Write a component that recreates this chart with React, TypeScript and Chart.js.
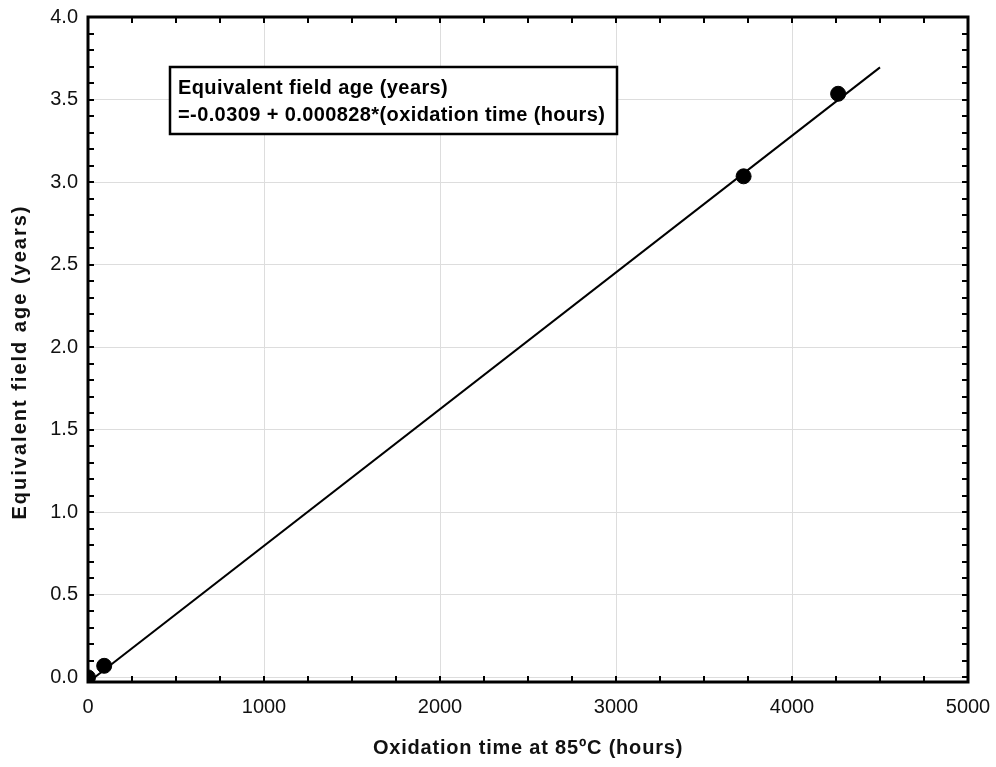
import React, { useEffect, useRef } from "react";
import { Chart, registerables } from "chart.js";

Chart.register(...registerables);

const OBS_HOURS = [0, 92, 3725, 4262];
const OBS_YEARS = [0, 0.07, 3.035, 3.535];
const FIT_HOURS = [0, 4500];
const FIT_YEARS = [-0.0309, 3.695];
const X_TICKS = [0, 1000, 2000, 3000, 4000, 5000];
const Y_TICKS = [0, 0.5, 1.0, 1.5, 2.0, 2.5, 3.0, 3.5, 4.0];
const X_MINOR_STEP = 250;
const Y_MINOR_STEP = 0.1;
const BOX_LINES = [
  "Equivalent field age (years)",
  "=-0.0309 + 0.000828*(oxidation time (hours)",
];
const X_TITLE = "Oxidation time at 85ºC (hours)";
const Y_TITLE = "Equivalent field age (years)";

const FONT = "'Liberation Sans', Arial, Helvetica, sans-serif";

const framePlugin = {
  id: "frameTicks",
  afterDraw(chart: any) {
    const { ctx, chartArea: a, scales } = chart;
    const xs = scales.x;
    const ys = scales.y;
    ctx.save();
    ctx.strokeStyle = "#000";
    // inward ticks
    ctx.lineWidth = 2;
    ctx.beginPath();
    const tl = 6;
    for (let v = 0; v <= 5000 + 1e-6; v += X_MINOR_STEP) {
      const px = Math.round(xs.getPixelForValue(v));
      ctx.moveTo(px, a.bottom);
      ctx.lineTo(px, a.bottom - tl);
      ctx.moveTo(px, a.top);
      ctx.lineTo(px, a.top + tl);
    }
    for (let i = 0; i <= 40; i++) {
      const v = i * Y_MINOR_STEP;
      const py = Math.round(ys.getPixelForValue(v));
      ctx.moveTo(a.left, py);
      ctx.lineTo(a.left + tl, py);
      ctx.moveTo(a.right, py);
      ctx.lineTo(a.right - tl, py);
    }
    ctx.stroke();
    // frame
    ctx.lineWidth = 3;
    ctx.strokeRect(a.left, a.top, a.right - a.left, a.bottom - a.top);

    // annotation box
    const bx = a.left + 82;
    const by = a.top + 50;
    const bw = 447;
    const bh = 67;
    ctx.fillStyle = "#fff";
    ctx.fillRect(bx, by, bw, bh);
    ctx.lineWidth = 2.5;
    ctx.strokeRect(bx, by, bw, bh);
    ctx.fillStyle = "#000";
    ctx.font = `bold 20px ${FONT}`;
    (ctx as any).letterSpacing = "0.4px";
    ctx.textBaseline = "middle";
    ctx.textAlign = "left";
    ctx.fillText(BOX_LINES[0], bx + 8, by + 21);
    ctx.fillText(BOX_LINES[1], bx + 8, by + 48);

    // axis titles
    ctx.fillStyle = "#111";
    ctx.textAlign = "center";
    (ctx as any).letterSpacing = "0.8px";
    ctx.fillText(X_TITLE, (a.left + a.right) / 2, 748);
    ctx.translate(20, 362);
    ctx.rotate(-Math.PI / 2);
    (ctx as any).letterSpacing = "2px";
    ctx.fillText(Y_TITLE, 0, 0);
    ctx.restore();
  },
};

export default function App() {
  const ref = useRef<HTMLCanvasElement | null>(null);
  useEffect(() => {
    if (!ref.current) return;
    const chart = new Chart(ref.current, {
      type: "scatter",
      data: {
        datasets: [
          {
            type: "line",
            label: "fit",
            data: FIT_HOURS.map((x, i) => ({ x, y: FIT_YEARS[i] })),
            borderColor: "#000",
            borderWidth: 2,
            pointRadius: 0,
            fill: false,
          } as any,
          {
            label: "observed",
            data: OBS_HOURS.map((x, i) => ({ x, y: OBS_YEARS[i] })),
            backgroundColor: "#000",
            borderColor: "#000",
            pointRadius: 7.5,
            pointHoverRadius: 7.5,
          },
        ],
      },
      options: {
        animation: false,
        responsive: true,
        maintainAspectRatio: false,
        layout: { padding: { top: 17, right: 28, left: 0, bottom: 0 } },
        plugins: {
          legend: { display: false },
          tooltip: { enabled: false },
        },
        scales: {
          x: {
            type: "linear",
            min: 0,
            max: 5000,
            afterBuildTicks: (s: any) => {
              s.ticks = X_TICKS.map((v) => ({ value: v }));
            },
            afterFit: (s: any) => {
              s.height = 85;
              s.paddingLeft = 0;
              s.paddingRight = 0;
            },
            grid: { color: "#dddddd", lineWidth: 1, drawTicks: false },
            border: { display: false },
            ticks: {
              padding: 13,
              color: "#111",
              font: { family: FONT, size: 20 },
              maxRotation: 0,
              callback: (v: any) => String(v),
            },
          },
          y: {
            type: "linear",
            min: -0.028,
            max: 4.0,
            afterBuildTicks: (s: any) => {
              s.ticks = Y_TICKS.map((v) => ({ value: v }));
            },
            afterFit: (s: any) => {
              s.width = 88;
              s.paddingTop = 0;
              s.paddingBottom = 0;
            },
            grid: { color: "#dddddd", lineWidth: 1, drawTicks: false },
            border: { display: false },
            ticks: {
              padding: 10,
              color: "#111",
              font: { family: FONT, size: 20 },
              callback: (v: any) => Number(v).toFixed(1),
            },
          },
        },
      },
      plugins: [framePlugin],
    });
    return () => chart.destroy();
  }, []);
  return (
    <div style={{ position: "fixed", left: 0, top: 0, width: 996, height: 767 }}>
      <canvas ref={ref} />
    </div>
  );
}
